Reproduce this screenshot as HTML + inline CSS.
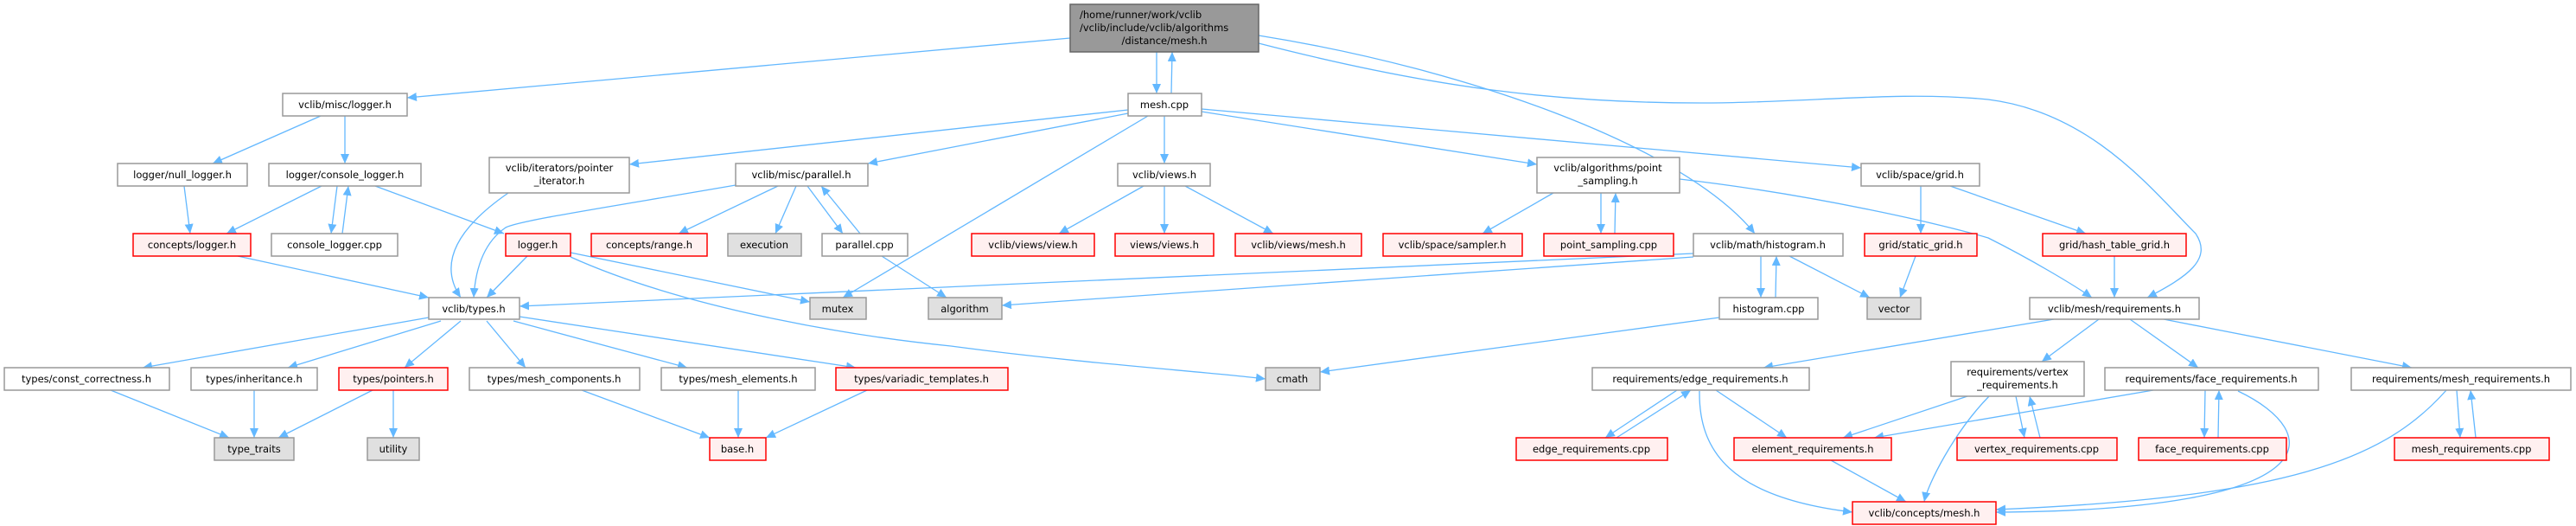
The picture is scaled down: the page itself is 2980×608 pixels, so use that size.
<!DOCTYPE html>
<html><head><meta charset="utf-8"><style>
html,body{margin:0;padding:0;background:#fff;}
svg{display:block;}
text{font-family:"DejaVu Sans","Liberation Sans",sans-serif;font-size:11.5px;fill:#000;}
.e{fill:none;stroke:#63b8ff;stroke-width:1.3;marker-end:url(#a);}
.w{fill:#fff;stroke:#999;stroke-width:1.5;}
.r{fill:#fff0f0;stroke:#f00;stroke-width:1.5;}
.g{fill:#e0e0e0;stroke:#999;stroke-width:1.5;}
</style></head><body>
<svg width="2980" height="608" viewBox="0 0 2980 608" xmlns="http://www.w3.org/2000/svg">
<defs><marker id="a" markerUnits="userSpaceOnUse" markerWidth="12" markerHeight="12" refX="11" refY="5" orient="auto"><path d="M0,0 L11,5 L0,10 z" fill="#63b8ff"/></marker></defs>
<g>
<path class="e" d="M1238,44 L471,113"/>
<path class="e" d="M1338,60 L1338,108"/>
<path class="e" d="M1355,108 L1356,60"/>
<path class="e" d="M1456,41 C1700,80 1950,170 2030,270"/>
<path class="e" d="M1456,50 C1650,100 1800,120 1980,119 C2100,118 2200,105 2300,115 C2420,130 2490,220 2540,270 C2560,300 2530,320 2484,344"/>
<path class="e" d="M1305,127 L728,190"/>
<path class="e" d="M1305,131 L1004,189"/>
<path class="e" d="M1328,134 L975,344"/>
<path class="e" d="M1347,134 L1347,189"/>
<path class="e" d="M1390,129 L1778,190"/>
<path class="e" d="M1390,126 L2153,194"/>
<path class="e" d="M1323,215 L1225,270"/>
<path class="e" d="M1347,215 L1347,270"/>
<path class="e" d="M1371,215 L1473,270"/>
<path class="e" d="M1797,223 L1715,270"/>
<path class="e" d="M1852,223 L1852,270"/>
<path class="e" d="M1868,270 L1869,223"/>
<path class="e" d="M1943,207 C2100,225 2250,260 2300,275 C2350,300 2400,330 2420,344"/>
<path class="e" d="M371,134 L246,189"/>
<path class="e" d="M399,134 L399,189"/>
<path class="e" d="M213,215 L220,270"/>
<path class="e" d="M372,215 L262,270"/>
<path class="e" d="M390,215 L383,270"/>
<path class="e" d="M396,270 L403,215"/>
<path class="e" d="M434,215 L583,270"/>
<path class="e" d="M275,296 L496,344"/>
<path class="e" d="M588,223 C520,270 510,310 533,344"/>
<path class="e" d="M851,214 C700,240 600,255 585,263 C560,280 550,310 548,344"/>
<path class="e" d="M900,215 L785,270"/>
<path class="e" d="M921,215 L897,270"/>
<path class="e" d="M934,215 L975,270"/>
<path class="e" d="M995,270 L950,215"/>
<path class="e" d="M1020,296 L1095,344"/>
<path class="e" d="M610,296 L563,344"/>
<path class="e" d="M660,292 L937,349"/>
<path class="e" d="M660,297 C800,360 1000,390 1100,400 C1250,420 1400,430 1464,438"/>
<path class="e" d="M1959,293 L601,354"/>
<path class="e" d="M1959,297 L1159,353"/>
<path class="e" d="M2037,296 L2037,344"/>
<path class="e" d="M2054,344 L2055,296"/>
<path class="e" d="M2070,296 L2163,344"/>
<path class="e" d="M1989,367 L1527,430"/>
<path class="e" d="M2222,215 L2222,270"/>
<path class="e" d="M2256,215 L2413,270"/>
<path class="e" d="M2216,296 L2198,344"/>
<path class="e" d="M2446,296 L2446,344"/>
<path class="e" d="M2376,369 L2040,425"/>
<path class="e" d="M2428,369 L2362,418"/>
<path class="e" d="M2464,369 L2543,425"/>
<path class="e" d="M2503,369 L2790,425"/>
<path class="e" d="M496,367 L165,425"/>
<path class="e" d="M510,371 L333,425"/>
<path class="e" d="M533,371 L468,425"/>
<path class="e" d="M563,371 L608,425"/>
<path class="e" d="M594,371 L795,425"/>
<path class="e" d="M601,366 L990,425"/>
<path class="e" d="M128,451 L265,506"/>
<path class="e" d="M294,451 L294,506"/>
<path class="e" d="M431,451 L322,506"/>
<path class="e" d="M455,451 L455,506"/>
<path class="e" d="M673,451 L821,506"/>
<path class="e" d="M854,451 L854,506"/>
<path class="e" d="M1003,451 L886,506"/>
<path class="e" d="M1940,451 L1857,506"/>
<path class="e" d="M1870,506 L1956,451"/>
<path class="e" d="M1985,451 L2067,506"/>
<path class="e" d="M1966,452 C1965,520 2000,575 2143,592"/>
<path class="e" d="M2276,458 L2132,506"/>
<path class="e" d="M2301,458 C2260,500 2230,560 2226,580"/>
<path class="e" d="M2332,458 L2342,506"/>
<path class="e" d="M2360,506 L2348,458"/>
<path class="e" d="M2491,451 L2168,506"/>
<path class="e" d="M2551,451 L2550,506"/>
<path class="e" d="M2566,506 L2567,451"/>
<path class="e" d="M2589,452 C2690,500 2700,590 2309,592"/>
<path class="e" d="M2830,451 C2760,530 2650,575 2309,589"/>
<path class="e" d="M2842,451 L2846,506"/>
<path class="e" d="M2864,506 L2858,451"/>
<path class="e" d="M2118,532 L2205,580"/>
</g>
<g>
<rect x="1238" y="5" width="218" height="55" fill="#999" stroke="#666" stroke-width="1.5"/>
<text x="1249" y="21">/home/runner/work/vclib</text>
<text x="1249" y="36">/vclib/include/vclib/algorithms</text>
<text x="1347" y="51" text-anchor="middle">/distance/mesh.h</text>
</g>
<g text-anchor="middle">
<rect class="w" x="1305" y="108" width="85" height="26"/><text x="1347" y="125">mesh.cpp</text>
<rect class="w" x="327" y="108" width="144" height="26"/><text x="399" y="125">vclib/misc/logger.h</text>
<rect class="w" x="136" y="189" width="150" height="26"/><text x="211" y="206">logger/null_logger.h</text>
<rect class="w" x="311" y="189" width="176" height="26"/><text x="399" y="206">logger/console_logger.h</text>
<rect class="w" x="566" y="182" width="162" height="41"/><text x="647" y="198">vclib/iterators/pointer</text><text x="647" y="213">_iterator.h</text>
<rect class="w" x="851" y="189" width="153" height="26"/><text x="927" y="206">vclib/misc/parallel.h</text>
<rect class="w" x="1293" y="189" width="107" height="26"/><text x="1347" y="206">vclib/views.h</text>
<rect class="w" x="1778" y="182" width="165" height="41"/><text x="1860" y="198">vclib/algorithms/point</text><text x="1860" y="213">_sampling.h</text>
<rect class="w" x="2153" y="189" width="137" height="26"/><text x="2221" y="206">vclib/space/grid.h</text>
<rect class="r" x="154" y="270" width="136" height="26"/><text x="222" y="287">concepts/logger.h</text>
<rect class="w" x="314" y="270" width="146" height="26"/><text x="387" y="287">console_logger.cpp</text>
<rect class="r" x="585" y="270" width="75" height="26"/><text x="622" y="287">logger.h</text>
<rect class="r" x="684" y="270" width="134" height="26"/><text x="751" y="287">concepts/range.h</text>
<rect class="g" x="842" y="270" width="85" height="26"/><text x="884" y="287">execution</text>
<rect class="w" x="951" y="270" width="99" height="26"/><text x="1000" y="287">parallel.cpp</text>
<rect class="r" x="1124" y="270" width="142" height="26"/><text x="1195" y="287">vclib/views/view.h</text>
<rect class="r" x="1290" y="270" width="114" height="26"/><text x="1347" y="287">views/views.h</text>
<rect class="r" x="1429" y="270" width="146" height="26"/><text x="1502" y="287">vclib/views/mesh.h</text>
<rect class="r" x="1600" y="270" width="161" height="26"/><text x="1680" y="287">vclib/space/sampler.h</text>
<rect class="r" x="1786" y="270" width="150" height="26"/><text x="1861" y="287">point_sampling.cpp</text>
<rect class="w" x="1959" y="270" width="173" height="26"/><text x="2045" y="287">vclib/math/histogram.h</text>
<rect class="r" x="2157" y="270" width="130" height="26"/><text x="2222" y="287">grid/static_grid.h</text>
<rect class="r" x="2363" y="270" width="166" height="26"/><text x="2446" y="287">grid/hash_table_grid.h</text>
<rect class="w" x="496" y="344" width="105" height="25"/><text x="548" y="361">vclib/types.h</text>
<rect class="g" x="937" y="344" width="65" height="25"/><text x="969" y="361">mutex</text>
<rect class="g" x="1074" y="344" width="85" height="25"/><text x="1116" y="361">algorithm</text>
<rect class="w" x="1989" y="344" width="114" height="25"/><text x="2046" y="361">histogram.cpp</text>
<rect class="g" x="2160" y="344" width="62" height="25"/><text x="2191" y="361">vector</text>
<rect class="w" x="2348" y="344" width="196" height="25"/><text x="2446" y="361">vclib/mesh/requirements.h</text>
<rect class="w" x="5" y="425" width="191" height="26"/><text x="100" y="442">types/const_correctness.h</text>
<rect class="w" x="221" y="425" width="146" height="26"/><text x="294" y="442">types/inheritance.h</text>
<rect class="r" x="392" y="425" width="126" height="26"/><text x="455" y="442">types/pointers.h</text>
<rect class="w" x="543" y="425" width="197" height="26"/><text x="641" y="442">types/mesh_components.h</text>
<rect class="w" x="765" y="425" width="178" height="26"/><text x="854" y="442">types/mesh_elements.h</text>
<rect class="r" x="967" y="425" width="199" height="26"/><text x="1066" y="442">types/variadic_templates.h</text>
<rect class="g" x="1464" y="425" width="63" height="26"/><text x="1495" y="442">cmath</text>
<rect class="w" x="1842" y="425" width="251" height="26"/><text x="1967" y="442">requirements/edge_requirements.h</text>
<rect class="w" x="2257" y="418" width="154" height="40"/><text x="2334" y="434">requirements/vertex</text><text x="2334" y="449">_requirements.h</text>
<rect class="w" x="2435" y="425" width="247" height="26"/><text x="2558" y="442">requirements/face_requirements.h</text>
<rect class="w" x="2720" y="425" width="254" height="26"/><text x="2847" y="442">requirements/mesh_requirements.h</text>
<rect class="g" x="248" y="506" width="92" height="26"/><text x="294" y="523">type_traits</text>
<rect class="g" x="425" y="506" width="60" height="26"/><text x="455" y="523">utility</text>
<rect class="r" x="821" y="506" width="65" height="26"/><text x="853" y="523">base.h</text>
<rect class="r" x="1754" y="506" width="175" height="26"/><text x="1841" y="523">edge_requirements.cpp</text>
<rect class="r" x="2006" y="506" width="182" height="26"/><text x="2097" y="523">element_requirements.h</text>
<rect class="r" x="2264" y="506" width="185" height="26"/><text x="2356" y="523">vertex_requirements.cpp</text>
<rect class="r" x="2474" y="506" width="171" height="26"/><text x="2559" y="523">face_requirements.cpp</text>
<rect class="r" x="2770" y="506" width="179" height="26"/><text x="2859" y="523">mesh_requirements.cpp</text>
<rect class="r" x="2143" y="580" width="166" height="26"/><text x="2226" y="597">vclib/concepts/mesh.h</text>
</g>
</svg>
</body></html>
